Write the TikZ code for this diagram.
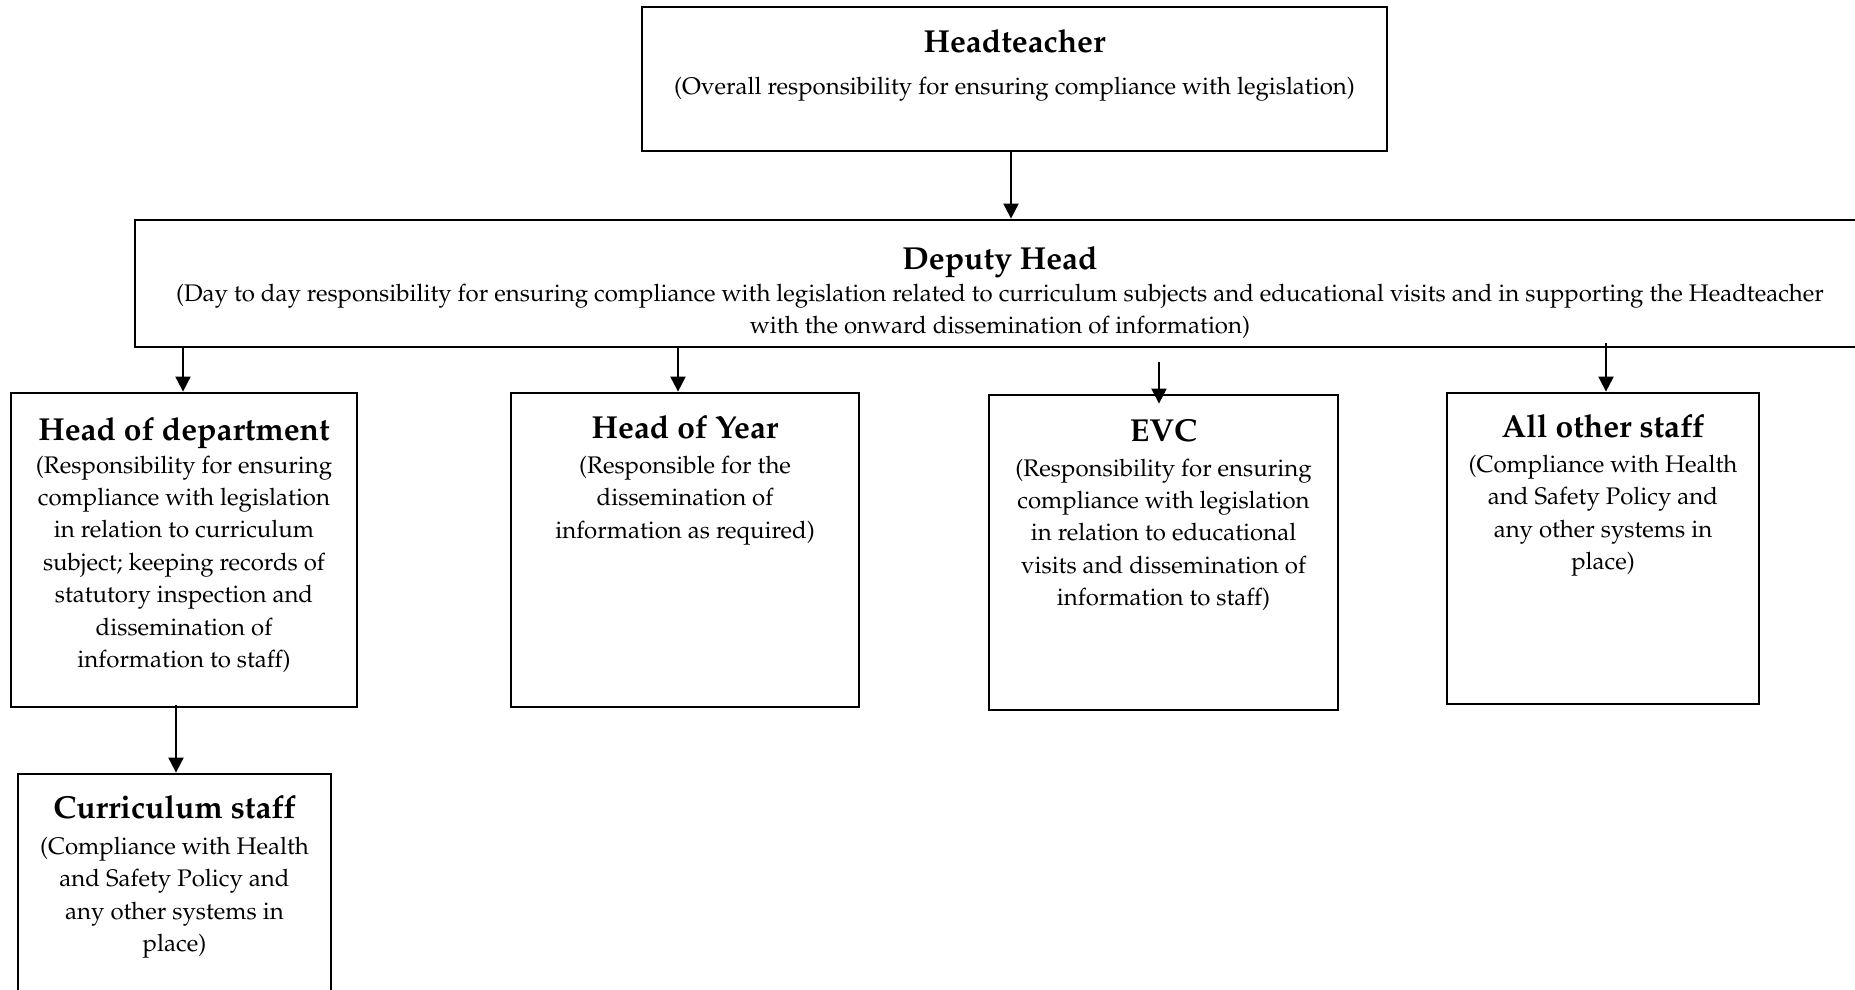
\documentclass[tikz,border=0pt]{standalone}
\usepackage[T1]{fontenc}
\usepackage{mathpazo}
\usetikzlibrary{arrows.meta,calc}
\begin{document}
\begin{tikzpicture}[x=0.5pt,y=-0.5pt,
  box/.style={draw, line width=1.4pt, inner sep=0pt},
  arr/.style={line width=1pt, -{Triangle[length=7.5pt,width=7.5pt]}},
  ttl/.style={font=\fontsize{15.9}{18}\selectfont\bfseries, anchor=base, inner sep=0pt},
  dsc/.style={font=\fontsize{12}{16.2}\selectfont, anchor=north, align=center, inner sep=0pt}]
\useasboundingbox (0,0) rectangle (1855,989);
% boxes
\node[box, minimum width=372.5pt, minimum height=72pt]  (HT)  at (1014.5,79) {};
\node[box, minimum width=865pt,   minimum height=63.5pt] (DH)  at (1000,283.5) {};
\node[box, minimum width=173pt,   minimum height=157pt] (HoD) at (184,550) {};
\node[box, minimum width=174pt,   minimum height=157pt] (HoY) at (685,550) {};
\node[box, minimum width=174.5pt, minimum height=157.5pt] (EVC) at (1163.5,552.5) {};
\node[box, minimum width=156pt,   minimum height=155.5pt] (AOS) at (1603,548.5) {};
\node[box, minimum width=156.5pt, minimum height=118pt] (CS)  at (174.5,892) {};
% texts
\node[ttl] (HTt) at (1014.5,52.5) {Headteacher};
\node[dsc] (HTd) at (1014.5,71.5) {\strut(Overall responsibility for ensuring compliance with legislation)};
\node[ttl] (DHt) at (1000,270) {Deputy Head};
\node[dsc] (DHd) at (1000,278.5) {\strut(Day to day responsibility for ensuring compliance with legislation related to curriculum subjects and educational visits and in supporting the Headteacher\\ with the onward dissemination of information)};
\node[ttl] (HoDt) at (184,440) {Head of department};
\node[dsc] (HoDd) at (184,450) {\strut(Responsibility for ensuring\\ compliance with legislation\\ in relation to curriculum\\ subject; keeping records of\\ statutory inspection and\\ dissemination of\\ information to staff)};
\node[ttl] (HoYt) at (685,438.5) {Head of Year};
\node[dsc] (HoYd) at (685,450.25) {\strut(Responsible for the\\ dissemination of\\ information as required)};
\node[ttl] (EVCt) at (1163.5,441.5) {EVC};
\node[dsc] (EVCd) at (1163.5,453) {\strut(Responsibility for ensuring\\ compliance with legislation\\ in relation to educational\\ visits and dissemination of\\ information to staff)};
\node[ttl] (AOSt) at (1603,437) {All other staff};
\node[dsc] (AOSd) at (1603,449.5) {\strut(Compliance with Health\\ and Safety Policy and\\ any other systems in\\ place)};
\node[ttl] (CSt) at (174.5,818) {Curriculum staff};
\node[dsc] (CSd) at (174.5,831.5) {\strut(Compliance with Health\\ and Safety Policy and\\ any other systems in\\ place)};
% connectors
\draw[arr] ($(HT.south)+(-3.5,0)$) -- ($(HT.south |- DH.north)+(-3.5,0)$);
\draw[arr] ($(HoD.north |- DH.south)+(-1,0)$) -- ($(HoD.north)+(-1,0)$);
\draw[arr] ($(HoY.north |- DH.south)+(-7,0)$) -- ($(HoY.north)+(-7,0)$);
\draw[arr] ($(EVC.north |- DH.south)+(-4.5,14)$) -- ($(EVC.north)+(-4.5,10)$);
\draw[arr] ($(AOS.north |- DH.south)+(3,-5)$) -- ($(AOS.north)+(3,0)$);
\draw[arr] ($(CS.north |- HoD.south)+(1.5,-3)$) -- ($(CS.north)+(1.5,0)$);
\end{tikzpicture}
\end{document}
